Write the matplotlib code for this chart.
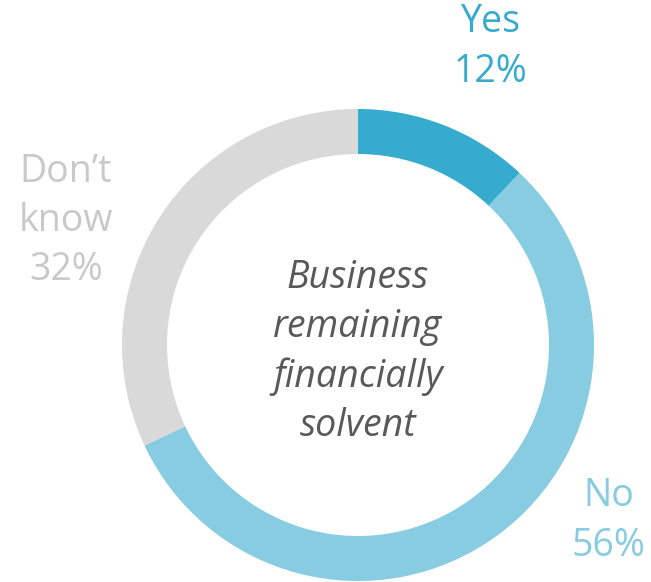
import matplotlib.pyplot as plt

# survey answers, clockwise from 12 o'clock
labels = ["Yes", "No", "Don\u2019t\nknow"]
shares = [12, 56, 32]
colors = ["#35abcd", "#87cce0", "#d9d9d9"]
label_colors = ["#35abcd", "#87cce0", "#c9c9c9"]
center_title = "Business\nremaining\nfinancially\nsolvent"

W, H = 651, 582
fig = plt.figure(figsize=(W / 100, H / 100), dpi=100)
ax = fig.add_axes([0, 0, 1, 1])

cx, cy, r = 358, H - 345, 236
ax.pie(shares, colors=colors, startangle=90, counterclock=False,
       radius=r, center=(cx, cy), frame=True,
       wedgeprops=dict(width=45, linewidth=0))
ax.set_xlim(0, W)
ax.set_ylim(0, H)
ax.set_aspect("equal")
ax.axis("off")

font = ["Open Sans", "DejaVu Sans"]
ax.text(cx, H - 352, center_title, ha="center", va="center", fontsize=27,
        style="italic", color="#595959", family=font, linespacing=1.38)

# outer labels: name on top, share underneath
pos = [(490, H - 47), (609, H - 521), (66, H - 221)]
for lab, val, c, (x, y) in zip(labels, shares, label_colors, pos):
    ax.text(x, y, f"{lab}\n{val}%", ha="center", va="center", fontsize=27,
            color=c, family=font, linespacing=1.38)

fig.savefig("out.png", dpi=100)
